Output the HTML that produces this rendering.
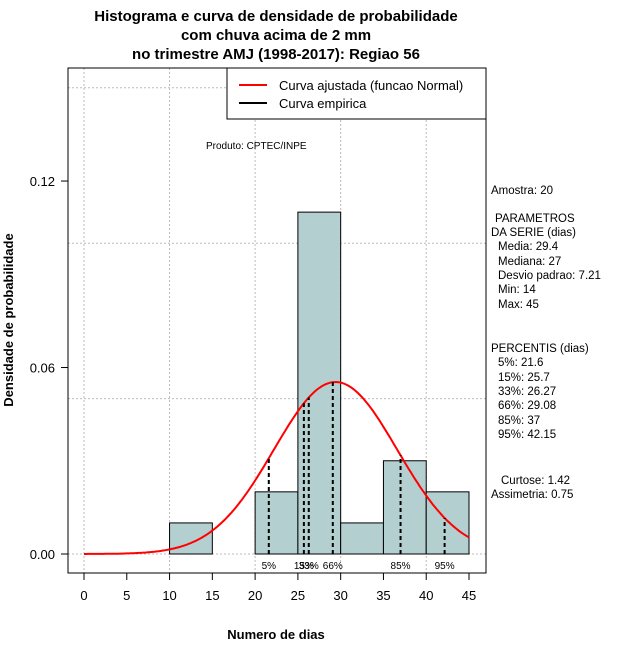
<!DOCTYPE html>
<html><head><meta charset="utf-8"><style>
body{margin:0;background:#fff;}
svg{font-family:"Liberation Sans",sans-serif;}
</style></head><body>
<svg id="chart" width="640" height="660" xmlns="http://www.w3.org/2000/svg">
<rect width="640" height="660" fill="#fff"/>
<g font-weight="bold" font-size="15" text-anchor="middle">
<text x="276" y="21">Histograma e curva de densidade de probabilidade</text>
<text x="276" y="40">com chuva acima de 2 mm</text>
<text x="276" y="59">no trimestre AMJ (1998-2017): Regiao 56</text>
</g>
<g id="grid"></g>
<g id="bars"></g>
<path id="curve" fill="none" stroke="#f00" stroke-width="2"/>
<g id="pct"></g>
<rect x="68" y="68" width="418" height="505" fill="none" stroke="#000"/>
<g id="axes" font-size="13"></g>
<text x="276" y="639" font-size="13" font-weight="bold" text-anchor="middle">Numero de dias</text>
<text transform="translate(13,320) rotate(-90)" font-size="13" font-weight="bold" text-anchor="middle">Densidade de probabilidade</text>
<g>
<rect x="227" y="68" width="259" height="51" fill="#fff" stroke="#000"/>
<line x1="239" y1="85" x2="267" y2="85" stroke="#f00" stroke-width="2"/>
<line x1="239" y1="103" x2="267" y2="103" stroke="#000" stroke-width="2"/>
<text x="279" y="90" font-size="13">Curva ajustada (funcao Normal)</text>
<text x="279" y="108" font-size="13">Curva empirica</text>
</g>
<text x="206" y="149" font-size="10">Produto: CPTEC/INPE</text>
<g font-size="11.5">
<text x="491" y="194">Amostra: 20</text>
<text x="495" y="222">PARAMETROS</text>
<text x="491" y="236">DA SERIE (dias)</text>
<text x="498" y="250">Media: 29.4</text>
<text x="498" y="265">Mediana: 27</text>
<text x="498" y="279">Desvio padrao: 7.21</text>
<text x="498" y="293">Min: 14</text>
<text x="498" y="308">Max: 45</text>
<text x="491" y="352">PERCENTIS (dias)</text>
<text x="498" y="366">5%: 21.6</text>
<text x="498" y="381">15%: 25.7</text>
<text x="498" y="395">33%: 26.27</text>
<text x="498" y="409">66%: 29.08</text>
<text x="498" y="424">85%: 37</text>
<text x="498" y="438">95%: 42.15</text>
<text x="501" y="484">Curtose: 1.42</text>
<text x="491" y="498">Assimetria: 0.75</text>
</g>
</svg>
<script>
const binStarts=[10,15,20,25,30,35,40];
const binDensity=[0.01,0,0.02,0.11,0.01,0.03,0.02];
const binWidth=5;
const xTicks=[0,5,10,15,20,25,30,35,40,45];
const yTicks=[0,0.06,0.12];
const yTickLabels=["0.00","0.06","0.12"];
const xGrid=[0,10,20,30,40];
const yGrid=[0,0.05,0.10,0.15];
const pctValues=[21.6,25.7,26.27,29.08,37,42.15];
const pctLabels=["5%","15%","33%","66%","85%","95%"];
const mean=29.4, sd=7.21;
const NS="http://www.w3.org/2000/svg";
const X=v=>84+v*(469-84)/45;
const Y=v=>554-v*3108;
function mk(t,a,p){const e=document.createElementNS(NS,t);for(const k in a)e.setAttribute(k,a[k]);p.appendChild(e);return e;}
const grid=document.getElementById('grid');
xGrid.forEach(v=>{const l=mk('line',{x1:X(v),x2:X(v),y1:68,y2:573,stroke:'#bbb','stroke-dasharray':'2,2'},grid);

});
yGrid.forEach(v=>{const l=mk('line',{x1:68,x2:486,y1:Y(v),y2:Y(v),stroke:'#bbb','stroke-dasharray':'2,2'},grid);

});
const bars=document.getElementById('bars');
binStarts.forEach((s,i)=>{if(binDensity[i]<=0)return;
const r=mk('rect',{x:X(s),y:Y(binDensity[i]),width:X(s+binWidth)-X(s),height:Y(0)-Y(binDensity[i]),fill:'#b4cfd0',stroke:'#000'},bars);

});
const pdf=x=>Math.exp(-0.5*((x-mean)/sd)**2)/(sd*Math.sqrt(2*Math.PI));
let d='';for(let x=0;x<=45.001;x+=0.25)d+=(d?'L':'M')+X(x).toFixed(1)+','+Y(pdf(x)).toFixed(1);
document.getElementById('curve').setAttribute('d',d);
const pct=document.getElementById('pct');
pctValues.forEach((v,i)=>{const l=mk('line',{x1:X(v),x2:X(v),y1:Y(0),y2:Y(pdf(v)),stroke:'#000','stroke-width':2,'stroke-dasharray':'4,3'},pct);


const t=mk('text',{x:X(v),y:569,'font-size':10,'text-anchor':'middle'},pct);t.textContent=pctLabels[i];

});
const axes=document.getElementById('axes');
mk('line',{x1:X(0),x2:X(45),y1:573,y2:573,stroke:'#000'},axes);
xTicks.forEach(v=>{mk('line',{x1:X(v),x2:X(v),y1:573,y2:580,stroke:'#000'},axes);
const t=mk('text',{x:X(v),y:600,'text-anchor':'middle'},axes);t.textContent=v;

});
yTicks.forEach((v,i)=>{mk('line',{x1:61,x2:68,y1:Y(v),y2:Y(v),stroke:'#000'},axes);
const t=mk('text',{x:55,y:Y(v)+5,'text-anchor':'end'},axes);t.textContent=yTickLabels[i];

});
</script>
</body></html>
